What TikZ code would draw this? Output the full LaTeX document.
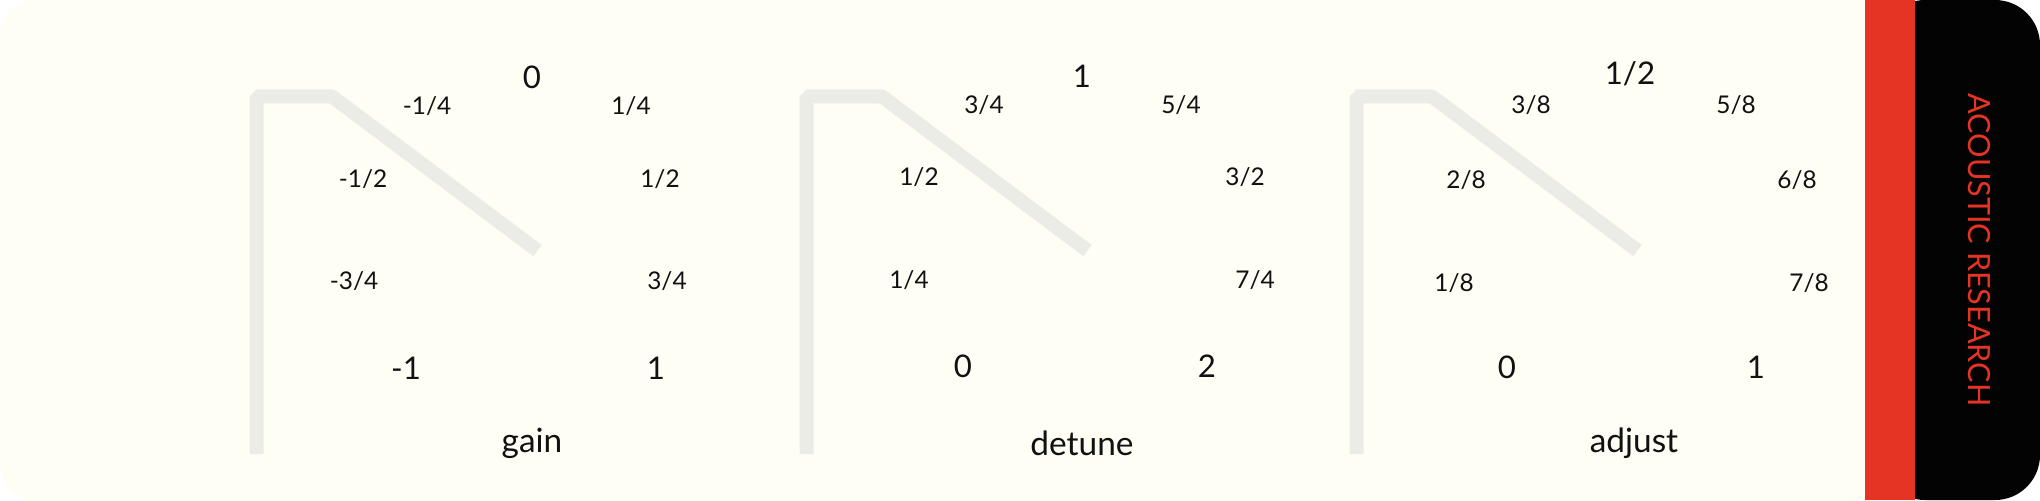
\documentclass[tikz,border=0pt]{standalone}
\usepackage{fontspec}
\setmainfont{Lato}
\definecolor{cream}{HTML}{FEFEF5}
\definecolor{knobgray}{HTML}{ECECE7}
\definecolor{arred}{HTML}{E53424}
\definecolor{arblack}{HTML}{030303}
\definecolor{ink}{HTML}{111111}
\begin{document}
\begin{tikzpicture}[x=0.5pt,y=-0.5pt,
  pointer/.style={draw=knobgray,line width=7pt,line cap=butt,line join=bevel},
  biglbl/.style={font=\fontsize{15.6}{18}\selectfont,inner sep=0pt,text=ink},
  smalllbl/.style={font=\fontsize{12.2}{14}\selectfont,inner sep=0pt,text=ink},
  namelbl/.style={font=\fontsize{16.7}{20}\selectfont,inner sep=0pt,text=ink},
]
\useasboundingbox (0,0) rectangle (2040,500);
\fill[white] (0,0) rectangle (2040,500);
\fill[cream, rounded corners=17.5pt] (0,0) rectangle (1900,500);
\fill[arblack, rounded corners=22.5pt] (1880,0) rectangle (2040,500);
\fill[arred] (1865,0) rectangle (1915,500);

% pointers
\foreach \dx in {0,550,1100}{
  \draw[pointer] (256.5+\dx,454) -- (256.5+\dx,96.3) -- (331.8+\dx,96.3) -- (537.5+\dx,250.6);
}

% knob 1: gain
\node[biglbl]   (g0)  at (532,77)  {0};
\node[smalllbl] (gm1) at (427,106) {-1/4};
\node[smalllbl] (gp1) at (631,106) {1/4};
\node[smalllbl] (gm2) at (363,179) {-1/2};
\node[smalllbl] (gp2) at (660,179) {1/2};
\node[smalllbl] (gm3) at (354,281) {-3/4};
\node[smalllbl] (gp3) at (667,281) {3/4};
\node[biglbl]   (gm4) at (406,368) {-1};
\node[biglbl]   (gp4) at (656,368) {1};
\node[namelbl]  (gname) at (532,443) {gain};

% knob 2: detune
\node[biglbl]   (d0)  at (1082,76)  {1};
\node[smalllbl] (dm1) at (984,105)  {3/4};
\node[smalllbl] (dp1) at (1181,105) {5/4};
\node[smalllbl] (dm2) at (919,177)  {1/2};
\node[smalllbl] (dp2) at (1245,177) {3/2};
\node[smalllbl] (dm3) at (909,280)  {1/4};
\node[smalllbl] (dp3) at (1255,280) {7/4};
\node[biglbl]   (dm4) at (963,366)  {0};
\node[biglbl]   (dp4) at (1207,366) {2};
\node[namelbl]  (dname) at (1082,443) {detune};

% knob 3: adjust
\node[biglbl]   (a0)  at (1630,74)  {1/2};
\node[smalllbl] (am1) at (1531,105) {3/8};
\node[smalllbl] (ap1) at (1736,105) {5/8};
\node[smalllbl] (am2) at (1466,180) {2/8};
\node[smalllbl] (ap2) at (1797,180) {6/8};
\node[smalllbl] (am3) at (1454,283) {1/8};
\node[smalllbl] (ap3) at (1809,283) {7/8};
\node[biglbl]   (am4) at (1507,367) {0};
\node[biglbl]   (ap4) at (1756,367) {1};
\node[namelbl]  (aname) at (1634,443) {adjust};

% brand
\node[rotate=-90, text=arred, inner sep=0pt, font=\fontsize{15.3}{18}\selectfont] (brand) at (1979,250) {ACOUSTIC RESEARCH};
\end{tikzpicture}
\end{document}
